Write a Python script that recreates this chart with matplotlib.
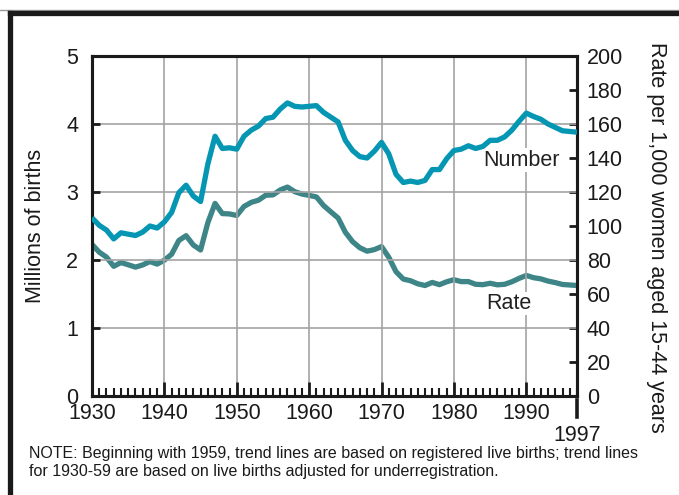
import numpy as np
import matplotlib
matplotlib.use('Agg')
import matplotlib.pyplot as plt
from matplotlib.lines import Line2D
from matplotlib.ticker import MultipleLocator

plt.rcParams['font.family'] = ['Liberation Sans', 'DejaVu Sans']

years = list(range(1930, 1998))

# millions of births
number = [2.62, 2.51, 2.44, 2.31, 2.40, 2.38, 2.36, 2.41, 2.50, 2.47,
          2.56, 2.70, 2.99, 3.10, 2.94, 2.86, 3.41, 3.82, 3.64, 3.65,
          3.63, 3.82, 3.91, 3.97, 4.08, 4.10, 4.22, 4.31, 4.26, 4.25,
          4.26, 4.27, 4.17, 4.10, 4.03, 3.76, 3.61, 3.52, 3.50, 3.60,
          3.73, 3.56, 3.26, 3.14, 3.16, 3.14, 3.17, 3.33, 3.33, 3.49,
          3.61, 3.63, 3.68, 3.64, 3.67, 3.76, 3.76, 3.81, 3.91, 4.04,
          4.16, 4.11, 4.07, 4.00, 3.95, 3.90, 3.89, 3.88]

# rate per 1,000 women aged 15-44
rate = [89.2, 84.6, 81.7, 76.3, 78.5, 77.2, 75.8, 77.1, 79.1, 77.6,
        79.9, 83.4, 91.5, 94.3, 88.8, 85.9, 101.9, 113.3, 107.3, 107.1,
        106.2, 111.5, 113.9, 115.2, 118.1, 118.3, 121.2, 122.9, 120.2, 118.8,
        118.0, 117.1, 112.0, 108.3, 104.7, 96.3, 90.8, 87.2, 85.2, 86.1,
        87.9, 81.6, 73.1, 68.8, 67.8, 66.0, 65.0, 66.8, 65.5, 67.2,
        68.4, 67.3, 67.3, 65.7, 65.5, 66.3, 65.4, 65.7, 67.2, 69.2,
        70.9, 69.6, 68.9, 67.6, 66.7, 65.6, 65.3, 65.0]

decade_ticks = [1930, 1940, 1950, 1960, 1970, 1980, 1990]

num_color = '#0496B2'
rate_color = '#3D8587'
grid_color = '#A3A3A3'
ink = '#1a1a1a'
fs = 15.5

fig = plt.figure(figsize=(6.79, 4.95), dpi=100)
ax = fig.add_axes([92/679, 1 - 396/495, 485/679, 340/495])
ax2 = ax.twinx()

ax.set_xlim(1930, 1997)
ax.set_ylim(0, 5)
ax2.set_ylim(0, 200)

# grid
for yv in [1, 2, 3, 4]:
    ax.axhline(yv, color=grid_color, lw=1.2, zorder=0)
for xv in decade_ticks[1:]:
    ax.axvline(xv, color=grid_color, lw=1.2, zorder=0)

ax.plot(years, number, color=num_color, lw=3.8, solid_joinstyle='round',
        solid_capstyle='butt', zorder=3)
ax2.plot(years, rate, color=rate_color, lw=3.8, solid_joinstyle='round',
         solid_capstyle='butt', zorder=3)

ax.text(1989.4, 3.47, 'Number', fontsize=fs, ha='center', va='center', color='#222222',
        bbox=dict(facecolor='white', edgecolor='none', pad=1), zorder=2)
ax.text(1987.6, 1.36, 'Rate', fontsize=fs, ha='center', va='center', color='#222222',
        bbox=dict(facecolor='white', edgecolor='none', pad=1), zorder=2)

ax.set_zorder(ax2.get_zorder() + 1)
ax.patch.set_visible(False)

for a in (ax, ax2):
    for s in a.spines.values():
        s.set_linewidth(2.2)
        s.set_color(ink)

ax.set_xticks(decade_ticks)
ax.xaxis.set_minor_locator(MultipleLocator(1))
ax.tick_params(axis='x', which='major', direction='in', length=10, width=2,
               labelsize=fs, pad=5, colors=ink)
ax.tick_params(axis='x', which='minor', direction='in', length=5.5, width=1.5,
               colors=ink)
ax.set_yticks([0, 1, 2, 3, 4, 5])
ax.tick_params(axis='y', direction='in', length=6, width=2, labelsize=fs, pad=10,
               colors=ink)
ax2.set_yticks(range(0, 201, 20))
ax2.tick_params(axis='y', direction='in', length=6, width=2, labelsize=fs, pad=7,
                colors=ink)

# end-year marker below the axis
fig.add_artist(Line2D([577/679, 577/679], [1 - 400/495, 1 - 417/495], color=ink,
                      lw=2.6, transform=fig.transFigure))
ax.text(1997, -0.42, '1997', fontsize=fs, ha='center', va='top', color=ink)

fig.text(36/679, 1 - 226/495, 'Millions of births', rotation=90, fontsize=fs,
         ha='center', va='center', color=ink)
fig.text(656/679, 1 - 237/495, 'Rate per 1,000 women aged 15-44 years', rotation=270,
         fontsize=fs, ha='center', va='center', color=ink)

fig.text(29/679, 1 - 446/495,
         'NOTE: Beginning with 1959, trend lines are based on registered live births; trend lines\n'
         'for 1930-59 are based on live births adjusted for underregistration.',
         fontsize=11.5, ha='left', va='top', linespacing=1.25, color=ink)

# outer frame
fig.add_artist(Line2D([0, 1], [1 - 9.5/495, 1 - 9.5/495], color='#999999', lw=1,
                      transform=fig.transFigure))
fig.add_artist(Line2D([9.5/679, 1], [1 - 13/495, 1 - 13/495], color=ink, lw=3.8,
                      transform=fig.transFigure, solid_capstyle='projecting'))
fig.add_artist(Line2D([9.5/679, 9.5/679], [0, 1 - 13/495], color=ink, lw=3.8,
                      transform=fig.transFigure, solid_capstyle='projecting'))

fig.savefig('out.png', dpi=100)
